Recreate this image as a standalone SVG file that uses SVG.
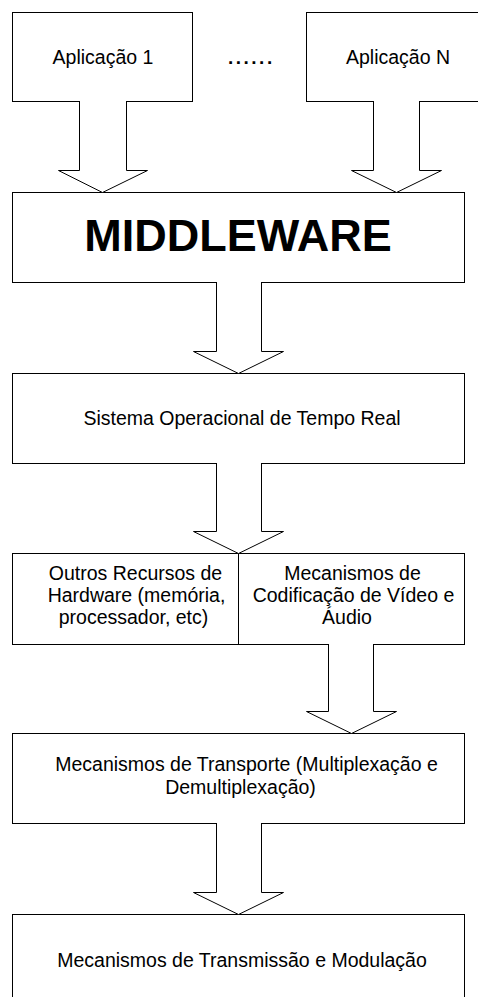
<svg xmlns="http://www.w3.org/2000/svg" width="478" height="997" viewBox="0 0 478 997">
<style>
.box{fill:#fff;stroke:#000;stroke-width:1}
.arr{fill:#fff;stroke:#000;stroke-width:1;stroke-linejoin:miter}
.t{font-family:"Liberation Sans",Arial,sans-serif;font-size:19.5px;fill:#000;text-anchor:middle}
.b{font-family:"Liberation Sans",Arial,sans-serif;font-size:45px;font-weight:bold;fill:#000;text-anchor:middle}
</style>
<rect width="478" height="997" fill="#fff"/>
<g id="app1"><rect class="box" x="12.5" y="12.5" width="180" height="89"/><text class="t" x="103" y="63.5">Aplicação 1</text></g>
<g id="dots"><text x="228" y="63.5" font-family="Liberation Sans,Arial,sans-serif" font-size="19" font-weight="bold" letter-spacing="2.5">......</text></g>
<g id="appN"><rect class="box" x="306.5" y="12.5" width="190" height="89"/><text class="t" x="398" y="63.5">Aplicação N</text></g>
<g id="middleware"><rect class="box" x="12.5" y="192.5" width="452" height="90"/><text class="b" x="238" y="251">MIDDLEWARE</text></g>
<g id="rtos"><rect class="box" x="12.5" y="373.5" width="452" height="90"/><text class="t" x="242" y="425">Sistema Operacional de Tempo Real</text></g>
<g id="hw"><rect class="box" x="12.5" y="553.5" width="226" height="91"/><text class="t" x="135.5" y="580">Outros Recursos de</text><text class="t" x="136.5" y="602">Hardware (memória,</text><text class="t" x="133.5" y="623.5">processador, etc)</text></g>
<g id="codec"><rect class="box" x="238.5" y="553.5" width="226" height="91"/><text class="t" x="352.5" y="580">Mecanismos de</text><text class="t" x="353.5" y="602">Codificação de Vídeo e</text><text class="t" x="347" y="623.5">Áudio</text></g>
<g id="transport"><rect class="box" x="12.5" y="733.5" width="452" height="90"/><text class="t" x="246.5" y="771">Mecanismos de Transporte (Multiplexação e</text><text class="t" x="240.5" y="793.5">Demultiplexação)</text></g>
<g id="transmission"><rect class="box" x="12.5" y="914.5" width="452" height="100"/><text class="t" x="242" y="966.5">Mecanismos de Transmissão e Modulação</text></g>
<g id="connectors">
<path class="arr" d="M79.5,101 V170.5 H58.5 L102.5,192.5 L147.5,170.5 H126.5 V101"/>
<path class="arr" d="M373.5,101 V170.5 H351.5 L396.5,192.5 L441.5,170.5 H419.5 V101"/>
<path class="arr" d="M216.5,282 V351.5 H193.5 L238.5,373.5 L283.5,351.5 H261.5 V282"/>
<path class="arr" d="M216.5,463 V531.5 H193.5 L238.5,553.5 L283.5,531.5 H261.5 V463"/>
<path class="arr" d="M328.5,644 V711.5 H306.5 L351.5,733.5 L396.5,711.5 H373.5 V644"/>
<path class="arr" d="M216.5,823 V892.5 H193.5 L238.5,914.5 L283.5,892.5 H261.5 V823"/>
</g>
</svg>
